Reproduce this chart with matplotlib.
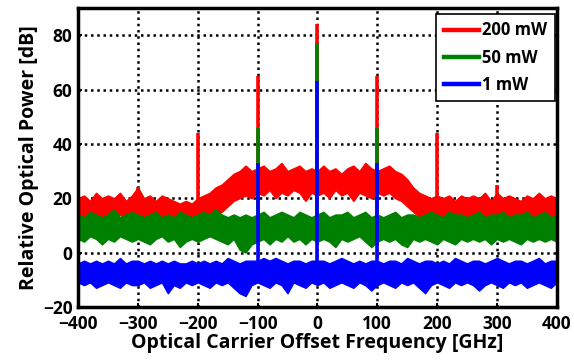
import matplotlib.pyplot as plt
import numpy as np

# offset frequency grid of the hand-read envelopes [GHz]
freq = np.arange(-400, 401, 10)

# noise-floor envelopes (upper / lower edge, dB)
red_hi = [20, 21, 19, 22, 20, 21, 20, 22, 19, 21,
          24, 20, 21, 19, 21, 20, 19, 18, 19, 18,
          20, 21, 22, 24, 25, 27, 29, 30, 32, 30,
          31, 32, 30, 31, 33, 30, 31, 32, 30, 31,
          30,
          32, 30, 31, 29, 31, 32, 30, 33, 31, 30,
          31, 32, 30, 29, 27, 24, 22, 21, 20, 21,
          20, 21, 19, 21, 20, 21, 20, 22, 19, 22,
          20, 21, 20, 19, 21, 20, 22, 20, 21, 20]
red_lo = [13, 12, 13, 14, 12, 13, 13, 14, 12, 13,
          13, 12, 14, 13, 12, 13, 12, 11, 12, 11,
          12, 12, 13, 14, 15, 17, 19, 20, 21, 20,
          22, 21, 23, 20, 22, 21, 23, 22, 19, 22,
          21,
          22, 20, 23, 21, 22, 19, 22, 21, 20, 22,
          21, 22, 20, 19, 17, 15, 13, 12, 12, 11,
          12, 13, 12, 12, 13, 11, 13, 12, 13, 12,
          13, 12, 13, 12, 14, 12, 13, 12, 13, 12]
green_hi = [14, 13, 15, 14, 13, 14, 16, 13, 14, 15,
            14, 13, 14, 15, 13, 14, 13, 15, 14, 13,
            14, 15, 14, 16, 14, 13, 14, 13, 14, 13,
            14, 15, 13, 14, 15, 14, 13, 15, 14, 13,
            14,
            15, 13, 14, 14, 15, 13, 14, 15, 13, 14,
            13, 14, 15, 13, 14, 14, 13, 14, 15, 14,
            13, 15, 14, 14, 13, 14, 15, 13, 14, 14,
            15, 13, 14, 14, 15, 13, 14, 15, 13, 14]
green_lo = [5, 4, 6, 5, 3, 5, 4, 6, 5, 4,
            5, 4, 3, 5, 6, 4, 5, 2, 4, 5,
            4, 5, 6, 5, 4, 3, 5, 1, 0, 3,
            4, 5, 3, 5, 4, 6, 4, 5, 3, 5,
            4,
            5, 4, 2, 5, 4, 5, 6, 4, 2, 4,
            5, 4, 5, 3, 2, 5, 4, 5, 4, 3,
            5, 4, 3, 5, 4, 5, 4, 5, 3, 5,
            4, 5, 4, 3, 5, 4, 5, 4, 5, 4]
blue_hi = [-4, -3, -4, -3, -4, -3, -4, -2, -4, -3,
           -3, -4, -3, -4, -3, -4, -3, -4, -4, -3,
           -4, -3, -4, -3, -4, -2, -3, -4, -3, -3,
           -3, -2, -3, -2, -3, -4, -3, -3, -4, -3,
           -3,
           -3, -4, -3, -2, -3, -4, -3, -4, -3, -3,
           -4, -3, -3, -4, -2, -3, -4, -3, -3, -4,
           -3, -4, -2, -3, -4, -3, -3, -4, -3, -2,
           -3, -4, -3, -3, -4, -3, -2, -4, -3, -3]
blue_lo = [-11, -12, -11, -13, -12, -11, -12, -13, -11, -12,
           -12, -11, -13, -12, -11, -15, -12, -13, -11, -12,
           -11, -12, -13, -11, -12, -11, -13, -15, -16, -12,
           -11, -12, -13, -11, -12, -15, -11, -12, -13, -11,
           -12,
           -11, -13, -12, -11, -12, -13, -11, -12, -14, -12,
           -11, -12, -13, -11, -12, -11, -13, -15, -12, -11,
           -12, -13, -11, -12, -11, -12, -14, -12, -11, -12,
           -13, -11, -12, -11, -13, -12, -11, -12, -13, -11]

# discrete tones (offset GHz, peak dB)
red_tone_f = [-300, -200, -100, 0, 100, 200, 300]
red_tone_p = [24, 44, 65, 84, 65, 44, 25]
green_tone_f = [-100, 0, 100]
green_tone_p = [46, 77, 46]
blue_tone_f = [-100, 0, 100]
blue_tone_p = [33, 63, 33]

series = [
    ("200 mW", "#ff0000", red_hi, red_lo, red_tone_f, red_tone_p, 16),
    ("50 mW", "#008000", green_hi, green_lo, green_tone_f, green_tone_p, 9),
    ("1 mW", "#0000ff", blue_hi, blue_lo, blue_tone_f, blue_tone_p, -6),
]

plt.rcParams["font.family"] = ["Open Sans", "DejaVu Sans"]
plt.rcParams["font.weight"] = "bold"

fig = plt.figure(figsize=(5.74, 3.64), dpi=100)
ax = fig.add_axes([0.136, 0.157, 0.834, 0.821])

for name, col, hi, lo, tf, tp, base in series:
    ax.fill_between(freq, lo, hi, color=col, lw=1.0, zorder=2)
    ax.vlines(tf, base, tp, color=col, lw=2.6, zorder=2)
    ax.plot([], [], color=col, lw=3.2, label=name)

ax.set_xlim(-400, 400)
ax.set_ylim(-20, 90)
ax.set_xticks(np.arange(-400, 401, 100))
ax.set_yticks(np.arange(-20, 81, 20))
ax.tick_params(labelsize=12.5, length=3, width=1.5, direction="in")
ax.tick_params(axis="x", pad=6)
ax.tick_params(axis="y", pad=4)
for lab in ax.get_xticklabels() + ax.get_yticklabels():
    lab.set_fontweight("bold")
ax.grid(True, color="black", linestyle=(0, (1, 1.5)), lw=1.8, zorder=1)
ax.set_axisbelow(True)
for sp in ax.spines.values():
    sp.set_linewidth(2.5)

ax.set_xlabel("Optical Carrier Offset Frequency [GHz]", fontsize=14,
              fontweight="bold", labelpad=0)
ax.set_ylabel("Relative Optical Power [dB]", fontsize=14,
              fontweight="bold", labelpad=3)

leg = ax.legend(loc="upper right", bbox_to_anchor=(0.996, 0.98),
                fontsize=12, handlelength=2.1,
                handletextpad=0.2, borderpad=0.45, labelspacing=0.55,
                fancybox=False, framealpha=1, edgecolor="black",
                borderaxespad=0)
leg.get_frame().set_linewidth(1.2)

fig.savefig("out.png", dpi=100)
